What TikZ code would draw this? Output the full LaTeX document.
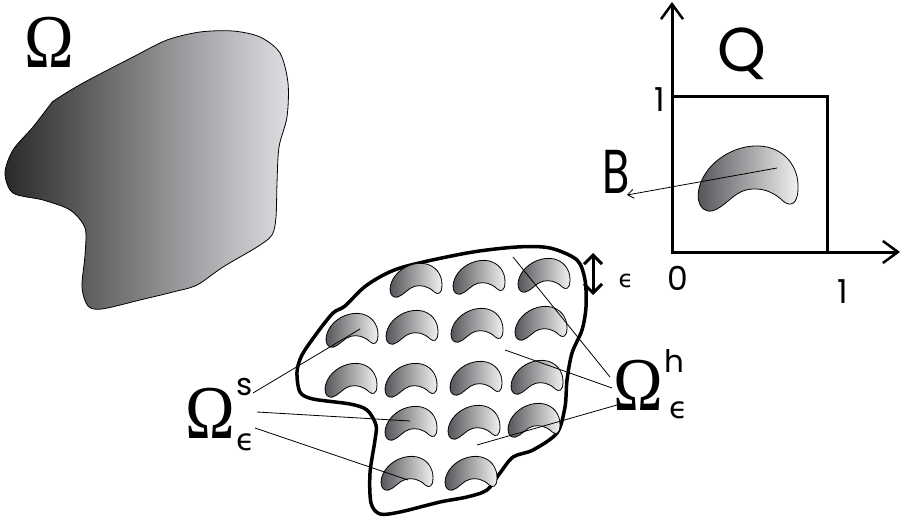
\documentclass[tikz,border=0pt]{standalone}
\usepackage{fontspec}
\setmainfont{Liberation Serif}
\newfontfamily\thinsans{Poppins}
\newfontfamily\epsfont{DejaVu Sans}
\usetikzlibrary{arrows.meta,positioning}
\definecolor{shadedark}{RGB}{42,42,44}
\definecolor{shadelight}{RGB}{222,223,226}
\definecolor{beandark}{RGB}{80,80,84}
\definecolor{beanlight}{RGB}{242,242,244}

\begin{document}
\begin{tikzpicture}[
    x=1pt, y=-1pt,
    region/.style={draw=black, line width=0.8pt, left color=shadedark, right color=shadelight},
    beanfill/.style={draw=black, line width=0.8pt, left color=beandark, right color=beanlight},
    border/.style={draw=black, line width=3.5pt},
    axis/.style={line width=3pt, -{Straight Barb[length=15pt, width=22pt, line width=2.5pt]}},
    leader/.style={line width=0.8pt},
    omegalbl/.style={font=\fontsize{76}{76}\selectfont, inner sep=0pt, anchor=base},
    biglbl/.style={font=\thinsans\fontsize{62}{62}\selectfont, inner sep=0pt, anchor=base},
    numlbl/.style={font=\thinsans\fontsize{33}{33}\selectfont, inner sep=0pt, anchor=base},
    idxlbl/.style={font=\thinsans\fontsize{31}{31}\selectfont, inner sep=0pt, anchor=base},
    epslbl/.style={font=\epsfont\fontsize{30}{30}\selectfont, inner sep=0pt, anchor=base},
    kidney/.pic={
        \path[beanfill] (-38,33) .. controls (-53,35) and (-56,15) .. (-46,-2)
            .. controls (-36,-20) and (-13,-33) .. (9,-32)
            .. controls (35,-31) and (49,-10) .. (48,10)
            .. controls (48,27) and (40,29) .. (33,23)
            .. controls (22,12) and (8,9) .. (-4,12)
            .. controls (-17,15) and (-26,30) .. (-38,33) -- cycle;
    }
]
    \useasboundingbox (0,0) rectangle (902,524);

    % Domain
    \path[region] plot[smooth cycle] coordinates {
        (55,100) (83,83) (133,57) (167,40) (200,32) (233,31) (260,37) (280,53)
        (288,83) (287,117) (279,147) (277,183) (276,217) (272,235) (257,247)
        (223,267) (197,285) (173,292) (140,300) (102,309) (88,306) (82,287)
        (85,255) (85,228) (70,210) (43,200) (13,193) (5,173) (13,150) (33,127) (50,105)};
    \node[omegalbl] (omega) at (49,68) {\scalebox{0.88}[1]{Ω}};

    % Unit cell
    \coordinate (orig) at (672,252);
    \coordinate (ytip) at (672,2);
    \coordinate (xtip) at (900,252);
    \draw[axis] (orig) -- (ytip);
    \draw[axis] (orig) -- (xtip);
    \draw[line width=3pt] (orig) rectangle (827,97);
    \node[biglbl] (qlbl) at (742,72) {Q};
    \node[numlbl] (yone) at (660,112) {1};
    \node[numlbl] (zero) at (678,290) {0};
    \node[numlbl] (xone) at (843,303) {1};
    \pic at (750,178) {kidney};
    \coordinate (bcore) at (777,168);
    \node[biglbl] (blbl) at (616,193) {\scalebox{0.72}[1]{B}};
    \draw[leader, -{Straight Barb[length=6pt, width=9pt]}] (bcore) -- (627,195);

    % Perforated domain
    \path[border] plot[smooth cycle] coordinates {
        (297,372) (302,355) (317,333) (333,313) (345,306) (367,285) (400,268)
        (467,253) (517,247) (550,248) (577,260) (585,280) (586,307) (582,330)
        (572,353) (567,380) (565,407) (557,433) (533,450) (513,457) (500,473)
        (487,490) (467,497) (440,502) (400,512) (380,514) (371,503) (370,473)
        (375,440) (376,425) (367,410) (350,404) (313,399) (300,392)};

    % Holes, row by row
    \pic[scale=0.52] at (417,280) {kidney};
    \pic[scale=0.52] at (480,277) {kidney};
    \pic[scale=0.52] at (545,275) {kidney};
    \pic[scale=0.52] at (353,330) {kidney};
    \pic[scale=0.52] at (413,327) {kidney};
    \pic[scale=0.52] at (478,325) {kidney};
    \pic[scale=0.52] at (542,323) {kidney};
    \pic[scale=0.52] at (352,380) {kidney};
    \pic[scale=0.52] at (412,380) {kidney};
    \pic[scale=0.52] at (477,378) {kidney};
    \pic[scale=0.52] at (538,377) {kidney};
    \pic[scale=0.52] at (412,423) {kidney};
    \pic[scale=0.52] at (475,422) {kidney};
    \pic[scale=0.52] at (535,420) {kidney};
    \pic[scale=0.52] at (408,473) {kidney};
    \pic[scale=0.52] at (472,473) {kidney};

    % Period
    \coordinate (epstop) at (593,253);
    \coordinate (epsbot) at (593,295);
    \draw[line width=3pt, {Straight Barb[length=9pt, width=18pt]}-{Straight Barb[length=9pt, width=18pt]}] (epstop) -- (epsbot);
    \node[epslbl, font=\epsfont\fontsize{24}{24}\selectfont] (eps) at (626,287) {ϵ};

    % Solid part label
    \node[omegalbl] (omegas) at (210,438) {\scalebox{0.88}[1]{Ω}};
    \node[idxlbl] (sup s) at (245,395) {s};
    \node[epslbl] (sub s) at (246,450) {ϵ};
    \coordinate (s1) at (253,393);
    \coordinate (s2) at (257,412);
    \coordinate (s3) at (255,428);
    \coordinate (hole1) at (360,329);
    \coordinate (hole2) at (410,421);
    \coordinate (hole3) at (408,480);
    \draw[leader] (s1) -- (hole1);
    \draw[leader] (s2) -- (hole2);
    \draw[leader] (s3) -- (hole3);

    % Matrix part label
    \node[omegalbl] (omegah) at (638,410) {\scalebox{0.88}[1]{Ω}};
    \node[idxlbl] (sup h) at (674,372) {h};
    \node[epslbl] (sub h) at (679,418) {ϵ};
    \coordinate (h1) at (610,377);
    \coordinate (h2) at (612,388);
    \coordinate (h3) at (617,405);
    \coordinate (mat1) at (513,257);
    \coordinate (mat2) at (505,350);
    \coordinate (mat3) at (477,445);
    \draw[leader] (h1) -- (mat1);
    \draw[leader] (h2) -- (mat2);
    \draw[leader] (h3) -- (mat3);
\end{tikzpicture}
\end{document}
